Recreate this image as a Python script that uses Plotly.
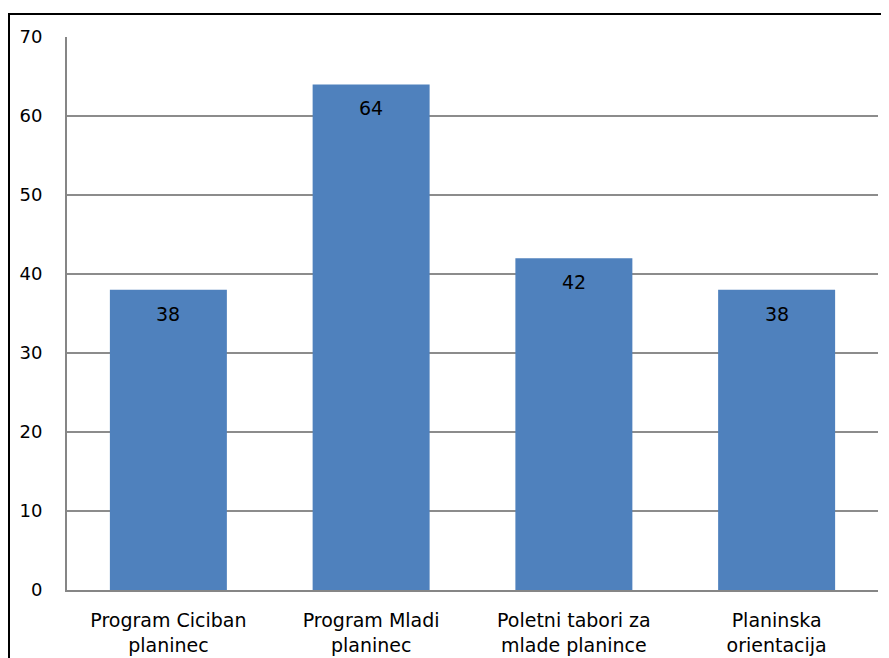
import plotly.graph_objects as go

categories = ["Program Ciciban<br>planinec", "Program Mladi<br>planinec",
              "Poletni tabori za<br>mlade planince", "Planinska<br>orientacija"]
values = [38, 64, 42, 38]
y_ticks = [0, 10, 20, 30, 40, 50, 60, 70]

# page body has an 8px margin, so the figure is sized/offset to compensate
OFF = 8
W, H = 889 - OFF, 658 - OFF
ml, mr, mt, mb = 67 - OFF, 11, 37 - OFF, 68
pw, ph = W - ml - mr, H - mt - mb

fig = go.Figure(go.Bar(
    x=categories, y=values, marker=dict(color="#4F81BD", line=dict(width=0)),
    width=0.577, hoverinfo="skip"))

for c, v in zip(categories, values):
    fig.add_annotation(x=c, y=v, text=str(v), showarrow=False, yshift=-24,
                       font=dict(family="DejaVu Sans", size=19, color="black"))

fx = -(ml - 1) / pw
fy = (H - mb - (14 - OFF)) / ph
fig.add_shape(type="path", xref="paper", yref="paper",
              path=f"M {fx},-0.3 L {fx},{fy} L 1.2,{fy}",
              line=dict(color="black", width=2))

fig.update_layout(
    width=W, height=H, margin=dict(l=ml, r=mr, t=mt, b=mb),
    paper_bgcolor="white", plot_bgcolor="white", showlegend=False,
    bargap=0.423,
    font=dict(family="DejaVu Sans", size=18, color="black"),
    xaxis=dict(showline=True, linecolor="#868686", linewidth=2, ticks="",
               tickfont=dict(size=19), showgrid=False, ticklabelstandoff=12,
               automargin=False),
    yaxis=dict(range=[0, 70], tickvals=y_ticks, showgrid=True, gridcolor="#8c8c8c",
               gridwidth=1.5, showline=True, linecolor="#868686", linewidth=2,
               ticks="", ticklabelstandoff=19, tickfont=dict(size=18), zeroline=False,
               automargin=False),
)

fig.write_html("out.html")
